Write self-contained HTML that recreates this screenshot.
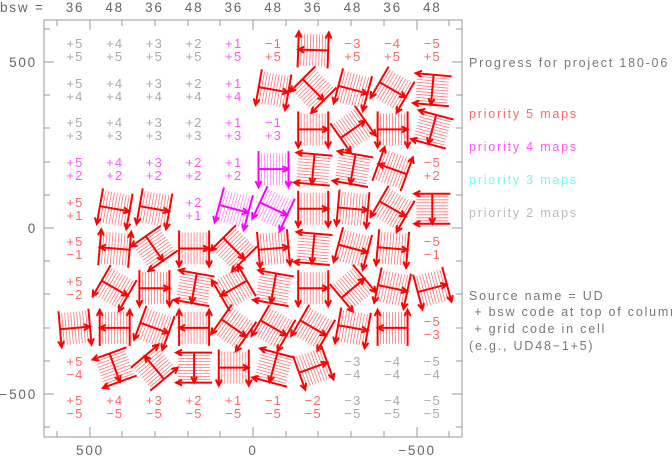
<!DOCTYPE html>
<html><head><meta charset="utf-8"><style>
body{margin:0;background:#fff;}
svg{display:block;font-family:"Liberation Sans",sans-serif;}
.t{font-size:12.5px;letter-spacing:1.8px;}
.c{font-size:13px;letter-spacing:1.2px;}
.g{fill:#aaa}.r{fill:#f66}.m{fill:#f5f}
</style></head><body>
<svg width="672" height="457" viewBox="0 0 672 457">
<defs>
<g id="hatch">
<line x1="-12" y1="-16" x2="-12" y2="16"/><line x1="-9" y1="-16" x2="-9" y2="16"/><line x1="-6" y1="-16" x2="-6" y2="16"/><line x1="-3" y1="-16" x2="-3" y2="16"/><line x1="0" y1="-16" x2="0" y2="16"/><line x1="3" y1="-16" x2="3" y2="16"/><line x1="6" y1="-16" x2="6" y2="16"/><line x1="9" y1="-16" x2="9" y2="16"/><line x1="12" y1="-16" x2="12" y2="16"/>
</g>
<g id="frame" fill="none" stroke-width="2">
<line x1="-15" y1="-18" x2="-15" y2="18"/><line x1="15" y1="-18" x2="15" y2="18"/>
<polyline points="-18,12 -15,18 -12,12"/><polyline points="12,12 15,18 18,12"/>
<line x1="-15" y1="0" x2="15" y2="0"/><polyline points="9,-3 15,0 9,3"/>
</g>
<g id="gr"><g stroke="#f77" stroke-width="0.8"><use href="#hatch"/></g><g stroke="#f00"><use href="#frame"/></g></g>
<g id="gm"><g stroke="#f8f" stroke-width="0.8"><use href="#hatch"/></g><g stroke="#f0f"><use href="#frame"/></g></g>
</defs>
<rect x="44" y="20" width="418" height="417" fill="none" stroke="#999" stroke-width="1"/>
<g stroke="#999" stroke-width="1">
<line x1="57" y1="437" x2="57" y2="431"/><line x1="90" y1="437" x2="90" y2="427"/><line x1="122" y1="437" x2="122" y2="431"/><line x1="155" y1="437" x2="155" y2="431"/><line x1="188" y1="437" x2="188" y2="431"/><line x1="220" y1="437" x2="220" y2="431"/><line x1="253" y1="437" x2="253" y2="427"/><line x1="286" y1="437" x2="286" y2="431"/><line x1="318" y1="437" x2="318" y2="431"/><line x1="351" y1="437" x2="351" y2="431"/><line x1="384" y1="437" x2="384" y2="431"/><line x1="417" y1="437" x2="417" y2="427"/><line x1="449" y1="437" x2="449" y2="431"/>
<line x1="57" y1="20" x2="57" y2="26"/><line x1="90" y1="20" x2="90" y2="30"/><line x1="122" y1="20" x2="122" y2="26"/><line x1="155" y1="20" x2="155" y2="26"/><line x1="188" y1="20" x2="188" y2="26"/><line x1="220" y1="20" x2="220" y2="26"/><line x1="253" y1="20" x2="253" y2="30"/><line x1="286" y1="20" x2="286" y2="26"/><line x1="318" y1="20" x2="318" y2="26"/><line x1="351" y1="20" x2="351" y2="26"/><line x1="384" y1="20" x2="384" y2="26"/><line x1="417" y1="20" x2="417" y2="30"/><line x1="449" y1="20" x2="449" y2="26"/>
<line x1="44" y1="29" x2="50" y2="29"/><line x1="44" y1="62" x2="54" y2="62"/><line x1="44" y1="95" x2="50" y2="95"/><line x1="44" y1="128" x2="50" y2="128"/><line x1="44" y1="162" x2="50" y2="162"/><line x1="44" y1="195" x2="50" y2="195"/><line x1="44" y1="228" x2="54" y2="228"/><line x1="44" y1="261" x2="50" y2="261"/><line x1="44" y1="294" x2="50" y2="294"/><line x1="44" y1="328" x2="50" y2="328"/><line x1="44" y1="361" x2="50" y2="361"/><line x1="44" y1="394" x2="54" y2="394"/><line x1="44" y1="427" x2="50" y2="427"/>
<line x1="462" y1="29" x2="456" y2="29"/><line x1="462" y1="62" x2="452" y2="62"/><line x1="462" y1="95" x2="456" y2="95"/><line x1="462" y1="128" x2="456" y2="128"/><line x1="462" y1="162" x2="456" y2="162"/><line x1="462" y1="195" x2="456" y2="195"/><line x1="462" y1="228" x2="452" y2="228"/><line x1="462" y1="261" x2="456" y2="261"/><line x1="462" y1="294" x2="456" y2="294"/><line x1="462" y1="328" x2="456" y2="328"/><line x1="462" y1="361" x2="456" y2="361"/><line x1="462" y1="394" x2="452" y2="394"/><line x1="462" y1="427" x2="456" y2="427"/>
</g>
<g class="t" fill="#666">
<text x="37" y="67" text-anchor="end" style="font-size:13.5px">500</text>
<text x="37" y="233" text-anchor="end" style="font-size:13.5px">0</text>
<text x="37" y="399" text-anchor="end" style="font-size:13.5px">−500</text>
<text x="90" y="455" text-anchor="middle" style="font-size:13.5px">500</text>
<text x="253" y="455" text-anchor="middle" style="font-size:13.5px">0</text>
<text x="417" y="455" text-anchor="middle" style="font-size:13.5px">−500</text>
<text x="0" y="12" style="font-size:13.5px">bsw =</text>
<g text-anchor="middle" style="font-size:13.5px">
<text x="75" y="12">36</text><text x="114.7" y="12">48</text><text x="154.4" y="12">36</text><text x="194.1" y="12">48</text><text x="233.8" y="12">36</text><text x="273.5" y="12">48</text><text x="313.2" y="12">36</text><text x="352.9" y="12">48</text><text x="392.6" y="12">36</text><text x="432.3" y="12">48</text>
</g>
</g>
<g class="t">
<text x="469" y="67" fill="#777">Progress for project 180-06</text>
<text x="469" y="118" fill="#f66">priority 5 maps</text>
<text x="469" y="151" fill="#f5f">priority 4 maps</text>
<text x="469" y="184" fill="#6ff">priority 3 maps</text>
<text x="469" y="217" fill="#bbb">priority 2 maps</text>
<text x="469" y="300" fill="#777">Source name = UD</text>
<text x="469" y="316" fill="#777" xml:space="preserve"> + bsw code at top of column</text>
<text x="469" y="333" fill="#777" xml:space="preserve"> + grid code in cell</text>
<text x="469" y="350" fill="#777">(e.g., UD48−1+5)</text>
</g>
<g class="c" text-anchor="middle">
<g class="g"><text x="75" y="48">+5</text><text x="75" y="61">+5</text><text x="114.7" y="48">+4</text><text x="114.7" y="61">+5</text><text x="154.4" y="48">+3</text><text x="154.4" y="61">+5</text><text x="194.1" y="48">+2</text><text x="194.1" y="61">+5</text></g>
<g class="m"><text x="233.8" y="48">+1</text><text x="233.8" y="61">+5</text></g>
<g class="r"><text x="273.5" y="48">−1</text><text x="273.5" y="61">+5</text><text x="352.9" y="48">−3</text><text x="352.9" y="61">+5</text><text x="392.6" y="48">−4</text><text x="392.6" y="61">+5</text><text x="432.3" y="48">−5</text><text x="432.3" y="61">+5</text></g>
<g class="g"><text x="75" y="88">+5</text><text x="75" y="101">+4</text><text x="114.7" y="88">+4</text><text x="114.7" y="101">+4</text><text x="154.4" y="88">+3</text><text x="154.4" y="101">+4</text><text x="194.1" y="88">+2</text><text x="194.1" y="101">+4</text></g>
<g class="m"><text x="233.8" y="88">+1</text><text x="233.8" y="101">+4</text></g>
<g class="g"><text x="75" y="127">+5</text><text x="75" y="140">+3</text><text x="114.7" y="127">+4</text><text x="114.7" y="140">+3</text><text x="154.4" y="127">+3</text><text x="154.4" y="140">+3</text><text x="194.1" y="127">+2</text><text x="194.1" y="140">+3</text></g>
<g class="m"><text x="233.8" y="127">+1</text><text x="233.8" y="140">+3</text><text x="273.5" y="127">−1</text><text x="273.5" y="140">+3</text></g>
<g class="m"><text x="75" y="167">+5</text><text x="75" y="180">+2</text><text x="114.7" y="167">+4</text><text x="114.7" y="180">+2</text><text x="154.4" y="167">+3</text><text x="154.4" y="180">+2</text><text x="194.1" y="167">+2</text><text x="194.1" y="180">+2</text><text x="233.8" y="167">+1</text><text x="233.8" y="180">+2</text></g>
<g class="r"><text x="432.3" y="167">−5</text><text x="432.3" y="180">+2</text></g>
<g class="r"><text x="75" y="207">+5</text><text x="75" y="220">+1</text></g>
<g class="m"><text x="194.1" y="207">+2</text><text x="194.1" y="220">+1</text></g>
<g class="r"><text x="75" y="246">+5</text><text x="75" y="259">−1</text><text x="432.3" y="246">−5</text><text x="432.3" y="259">−1</text>
<text x="75" y="286">+5</text><text x="75" y="299">−2</text>
<text x="432.3" y="326">−5</text><text x="432.3" y="339">−3</text>
<text x="75" y="366">+5</text><text x="75" y="379">−4</text></g>
<g class="g"><text x="352.9" y="366">−3</text><text x="352.9" y="379">−4</text><text x="392.6" y="366">−4</text><text x="392.6" y="379">−4</text><text x="432.3" y="366">−5</text><text x="432.3" y="379">−4</text></g>
<g class="r"><text x="75" y="405">+5</text><text x="75" y="418">−5</text><text x="114.7" y="405">+4</text><text x="114.7" y="418">−5</text><text x="154.4" y="405">+3</text><text x="154.4" y="418">−5</text><text x="194.1" y="405">+2</text><text x="194.1" y="418">−5</text><text x="233.8" y="405">+1</text><text x="233.8" y="418">−5</text><text x="273.5" y="405">−1</text><text x="273.5" y="418">−5</text><text x="313.2" y="405">−2</text><text x="313.2" y="418">−5</text></g>
<g class="g"><text x="352.9" y="405">−3</text><text x="352.9" y="418">−5</text><text x="392.6" y="405">−4</text><text x="392.6" y="418">−5</text><text x="432.3" y="405">−5</text><text x="432.3" y="418">−5</text></g>
</g>
<use href="#gr" transform="translate(313.2,50) rotate(182)"/>
<use href="#gr" transform="translate(273.5,89.7) rotate(10)"/>
<use href="#gr" transform="translate(313.2,89.7) rotate(45)"/>
<use href="#gr" transform="translate(352.9,89.7) rotate(15)"/>
<use href="#gr" transform="translate(392.6,89.7) rotate(30)"/>
<use href="#gr" transform="translate(432.3,89.7) rotate(95)"/>
<use href="#gr" transform="translate(313.2,129.4) rotate(0)"/>
<use href="#gr" transform="translate(352.9,129.4) rotate(325)"/>
<use href="#gr" transform="translate(392.6,129.4) rotate(0)"/>
<use href="#gr" transform="translate(432.3,129.4) rotate(105)"/>
<use href="#gm" transform="translate(273.5,169.1) rotate(0)"/>
<use href="#gr" transform="translate(313.2,169.1) rotate(95)"/>
<use href="#gr" transform="translate(352.9,169.1) rotate(100)"/>
<use href="#gr" transform="translate(392.6,169.1) rotate(200)"/>
<use href="#gr" transform="translate(114.7,208.8) rotate(10)"/>
<use href="#gr" transform="translate(154.4,208.8) rotate(10)"/>
<use href="#gm" transform="translate(233.8,208.8) rotate(15)"/>
<use href="#gm" transform="translate(273.5,208.8) rotate(25)"/>
<use href="#gr" transform="translate(313.2,208.8) rotate(0)"/>
<use href="#gr" transform="translate(352.9,208.8) rotate(5)"/>
<use href="#gr" transform="translate(392.6,208.8) rotate(30)"/>
<use href="#gr" transform="translate(432.3,208.8) rotate(90)"/>
<use href="#gr" transform="translate(114.7,248.5) rotate(185)"/>
<use href="#gr" transform="translate(154.4,248.5) rotate(55)"/>
<use href="#gr" transform="translate(194.1,248.5) rotate(0)"/>
<use href="#gr" transform="translate(233.8,248.5) rotate(45)"/>
<use href="#gr" transform="translate(273.5,248.5) rotate(355)"/>
<use href="#gr" transform="translate(313.2,248.5) rotate(95)"/>
<use href="#gr" transform="translate(352.9,248.5) rotate(15)"/>
<use href="#gr" transform="translate(392.6,248.5) rotate(5)"/>
<use href="#gr" transform="translate(114.7,288.2) rotate(30)"/>
<use href="#gr" transform="translate(154.4,288.2) rotate(0)"/>
<use href="#gr" transform="translate(194.1,288.2) rotate(100)"/>
<use href="#gr" transform="translate(233.8,288.2) rotate(150)"/>
<use href="#gr" transform="translate(273.5,288.2) rotate(100)"/>
<use href="#gr" transform="translate(313.2,288.2) rotate(0)"/>
<use href="#gr" transform="translate(352.9,288.2) rotate(320)"/>
<use href="#gr" transform="translate(392.6,288.2) rotate(12)"/>
<use href="#gr" transform="translate(432.3,288.2) rotate(345)"/>
<use href="#gr" transform="translate(75,327.9) rotate(355)"/>
<use href="#gr" transform="translate(114.7,327.9) rotate(180)"/>
<use href="#gr" transform="translate(154.4,327.9) rotate(20)"/>
<use href="#gr" transform="translate(194.1,327.9) rotate(180)"/>
<use href="#gr" transform="translate(233.8,327.9) rotate(35)"/>
<use href="#gr" transform="translate(273.5,327.9) rotate(30)"/>
<use href="#gr" transform="translate(313.2,327.9) rotate(30)"/>
<use href="#gr" transform="translate(352.9,327.9) rotate(10)"/>
<use href="#gr" transform="translate(392.6,327.9) rotate(180)"/>
<use href="#gr" transform="translate(114.7,367.6) rotate(70)"/>
<use href="#gr" transform="translate(154.4,367.6) rotate(230)"/>
<use href="#gr" transform="translate(194.1,367.6) rotate(90)"/>
<use href="#gr" transform="translate(233.8,367.6) rotate(0)"/>
<use href="#gr" transform="translate(273.5,367.6) rotate(105)"/>
<use href="#gr" transform="translate(313.2,367.6) rotate(340)"/>
</svg>
</body></html>
